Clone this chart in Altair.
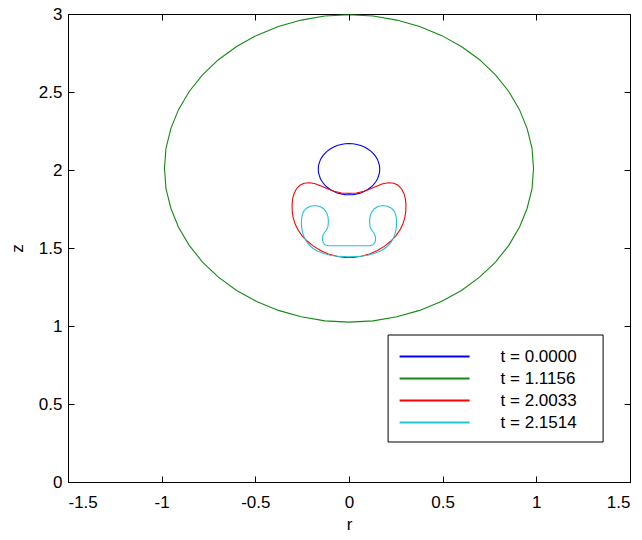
import altair as alt
import pandas as pd

series_labels = ["t = 0.0000", "t = 1.1156", "t = 2.0033", "t = 2.1514"]
series_colors = ["#0000ff", "#138a13", "#ff0000", "#22c4d4"]

# t = 0.0000 (blue drop)
r_t0 = [0, 0.021, 0.042, 0.063, 0.082, 0.100, 0.116, 0.130, 0.142, 0.152, 0.158, 0.163, 0.164,
        0.163, 0.158, 0.152, 0.142, 0.130, 0.116, 0.100, 0.082, 0.063, 0.042, 0.021, 0,
        -0.021, -0.042, -0.063, -0.082, -0.100, -0.116, -0.130, -0.142, -0.152, -0.158, -0.163, -0.164,
        -0.163, -0.158, -0.152, -0.142, -0.130, -0.116, -0.100, -0.082, -0.063, -0.042, -0.021, 0]
z_t0 = [2.169, 2.168, 2.163, 2.157, 2.147, 2.135, 2.121, 2.105, 2.087, 2.068, 2.047, 2.026, 2.005,
        1.984, 1.963, 1.942, 1.923, 1.905, 1.889, 1.875, 1.863, 1.853, 1.847, 1.842, 1.841,
        1.842, 1.847, 1.853, 1.863, 1.875, 1.889, 1.905, 1.923, 1.942, 1.963, 1.984, 2.005,
        2.026, 2.047, 2.068, 2.087, 2.105, 2.121, 2.135, 2.147, 2.157, 2.163, 2.168, 2.169]

# t = 1.1156 (green)
r_t1 = [0, 0.129, 0.255, 0.377, 0.493, 0.600, 0.697, 0.782, 0.853, 0.910, 0.951, 0.977, 0.985,
        0.977, 0.951, 0.910, 0.853, 0.782, 0.697, 0.600, 0.493, 0.377, 0.255, 0.129, 0,
        -0.129, -0.255, -0.377, -0.493, -0.600, -0.697, -0.782, -0.853, -0.910, -0.951, -0.977, -0.985,
        -0.977, -0.951, -0.910, -0.853, -0.782, -0.697, -0.600, -0.493, -0.377, -0.255, -0.129, 0]
z_t1 = [2.995, 2.987, 2.961, 2.920, 2.863, 2.792, 2.707, 2.610, 2.503, 2.387, 2.265, 2.139, 2.010,
        1.881, 1.755, 1.633, 1.517, 1.410, 1.313, 1.228, 1.157, 1.100, 1.059, 1.033, 1.025,
        1.033, 1.059, 1.100, 1.157, 1.228, 1.313, 1.410, 1.517, 1.633, 1.755, 1.881, 2.010,
        2.139, 2.265, 2.387, 2.503, 2.610, 2.707, 2.792, 2.863, 2.920, 2.961, 2.987, 2.995]

# t = 2.0033 (red)
r_t2 = [0, -0.040, -0.080, -0.115, -0.150, -0.180, -0.210, -0.240, -0.262, -0.280, -0.293, -0.301,
        -0.304, -0.303, -0.298, -0.288, -0.272, -0.250, -0.222, -0.190, -0.152, -0.110, -0.065, -0.025, 0,
        0.025, 0.065, 0.110, 0.152, 0.190, 0.222, 0.250, 0.272, 0.288, 0.298, 0.303, 0.304,
        0.301, 0.293, 0.280, 0.262, 0.240, 0.210, 0.180, 0.150, 0.115, 0.080, 0.040, 0]
z_t2 = [1.850, 1.853, 1.864, 1.880, 1.898, 1.912, 1.918, 1.915, 1.902, 1.880, 1.850, 1.815,
        1.775, 1.735, 1.695, 1.655, 1.615, 1.578, 1.543, 1.512, 1.484, 1.462, 1.447, 1.440, 1.439,
        1.440, 1.447, 1.462, 1.484, 1.512, 1.543, 1.578, 1.615, 1.655, 1.695, 1.735, 1.775,
        1.815, 1.850, 1.880, 1.902, 1.915, 1.918, 1.912, 1.898, 1.880, 1.864, 1.853, 1.850]

# t = 2.1514 (cyan)
r_t3 = [0, -0.060, -0.110, -0.128, -0.138, -0.142, -0.140, -0.132, -0.120, -0.112, -0.110, -0.112,
        -0.120, -0.135, -0.155, -0.180, -0.205, -0.227, -0.243, -0.251, -0.254, -0.253, -0.248,
        -0.238, -0.222, -0.200, -0.172, -0.138, -0.100, -0.050, 0,
        0.050, 0.100, 0.138, 0.172, 0.200, 0.222, 0.238, 0.248, 0.253, 0.254, 0.251, 0.243,
        0.227, 0.205, 0.180, 0.155, 0.135, 0.120, 0.112, 0.110, 0.112, 0.120, 0.132, 0.140,
        0.142, 0.138, 0.128, 0.110, 0.060, 0]
z_t3 = [1.514, 1.514, 1.514, 1.520, 1.535, 1.555, 1.578, 1.598, 1.615, 1.640, 1.670, 1.700,
        1.728, 1.752, 1.766, 1.772, 1.768, 1.755, 1.733, 1.705, 1.670, 1.635, 1.600,
        1.565, 1.532, 1.505, 1.483, 1.466, 1.454, 1.446, 1.444,
        1.446, 1.454, 1.466, 1.483, 1.505, 1.532, 1.565, 1.600, 1.635, 1.670, 1.705, 1.733,
        1.755, 1.768, 1.772, 1.766, 1.752, 1.728, 1.700, 1.670, 1.640, 1.615, 1.598, 1.578,
        1.555, 1.535, 1.520, 1.514, 1.514, 1.514]

x_ticks = [-1.5, -1, -0.5, 0, 0.5, 1, 1.5]
z_ticks = [0, 0.5, 1, 1.5, 2, 2.5, 3]

rows = []
for lab, rs, zs in zip(series_labels, [r_t0, r_t1, r_t2, r_t3], [z_t0, z_t1, z_t2, z_t3]):
    for i, (a, b) in enumerate(zip(rs, zs)):
        rows.append({"series": lab, "idx": i, "r": a, "z": b})
df = pd.DataFrame(rows)

FONT = "Liberation Sans"
x_scale = alt.Scale(domain=[-1.5, 1.5], nice=False, zero=False)
y_scale = alt.Scale(domain=[0, 3], nice=False, zero=False)

common_axis = dict(offset=-6, ticks=True, tickSize=6, tickWidth=1, domain=False, grid=False,
                   tickOpacity=1, tickColor="#000000", zindex=1,
                   labelFont=FONT, labelFontSize=17, labelColor="black",
                   titleFont=FONT, titleFontSize=17, titleFontWeight="normal", titleColor="black")

lines = alt.Chart(df).mark_line(strokeWidth=1.1, clip=True).encode(
    x=alt.X("r:Q", scale=x_scale,
            axis=alt.Axis(orient="bottom", values=x_ticks, title="r", labelPadding=12,
                          titlePadding=6, labelExpr="toString(datum.value)", **common_axis)),
    y=alt.Y("z:Q", scale=y_scale,
            axis=alt.Axis(orient="left", values=z_ticks, title="z", labelPadding=6,
                          titlePadding=12, labelExpr="toString(datum.value)", **common_axis)),
    color=alt.Color("series:N",
                    scale=alt.Scale(domain=series_labels, range=series_colors),
                    legend=alt.Legend(title=None, orient="none", legendX=319.6, legendY=320.5,
                                      symbolType="M-1,0H6", symbolSize=400, symbolStrokeWidth=2,
                                      labelOffset=80, padding=11, rowPadding=3,
                                      strokeColor="black", fillColor="white",
                                      labelFont=FONT, labelFontSize=17, labelColor="black",
                                      labelExpr="datum.label + '\u00a0\u00a0\u00a0\u200b'")),
    order=alt.Order("idx:Q"),
)

frame_axes = alt.Chart(df).mark_line(opacity=0).encode(
    x=alt.X("r:Q", scale=x_scale,
            axis=alt.Axis(orient="top", values=x_ticks, title=None, labels=False, **common_axis)),
    y=alt.Y("z:Q", scale=y_scale,
            axis=alt.Axis(orient="right", values=z_ticks, title=None, labels=False, **common_axis)),
    detail="series:N",
    order=alt.Order("idx:Q"),
)

chart = alt.layer(lines, frame_axes).resolve_axis(
    x="independent", y="independent"
).properties(
    width=562, height=468,
    padding={"left": 60, "top": 6, "right": 4, "bottom": 50},
    autosize=alt.AutoSizeParams(type="none"),
    background="white",
).configure_view(stroke="black", strokeWidth=1)

chart.save("out.html", embed_options={"renderer": "svg", "actions": False})
